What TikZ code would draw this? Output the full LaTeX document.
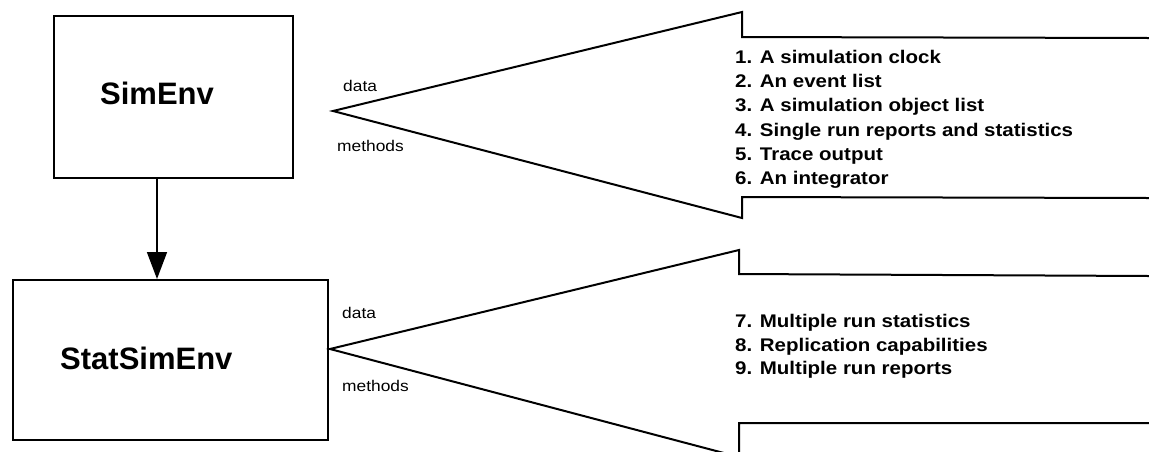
\documentclass[tikz,border=0pt]{standalone}
\usepackage{fontspec}
\setmainfont{Liberation Sans}
\newfontfamily\boxfont{Liberation Sans}
\newfontfamily\listfont[FakeStretch=1.12]{Liberation Sans}
\newfontfamily\tagfont[FakeStretch=1.12]{Liberation Sans}
\usetikzlibrary{arrows.meta}
\begin{document}
\begin{tikzpicture}[x=1pt,y=-1pt,
  classbox/.style={draw,line width=2pt},
  classname/.style={font=\boxfont\fontsize{31}{31}\selectfont\bfseries,inner sep=0pt},
  featitem/.style={font=\listfont\fontsize{18.3}{18.3}\selectfont\bfseries,inner sep=0pt,anchor=base west},
  porttag/.style={font=\tagfont\fontsize{15.5}{15.5}\selectfont,inner sep=0pt,anchor=base west},
  callout/.style={draw,line width=2pt,line join=miter},
  inherit/.style={draw,line width=1.6pt,-{Triangle[width=20pt,length=27pt]}}]
\useasboundingbox (0,0) rectangle (1149,451);
\clip (0,0) rectangle (1149,451);

% class boxes
\node[classbox,anchor=north west,minimum width=239pt,minimum height=162pt,inner sep=0pt] (simenv) at (53,15) {};
\node[classbox,anchor=north west,minimum width=315pt,minimum height=160pt,inner sep=0pt] (statsimenv) at (12,279) {};
\node[classname,anchor=base] (simenvlabel) at (157,104.5) {SimEnv};
\node[classname,anchor=base west] (statlabel) at (60,369) {StatSimEnv};

% inheritance arrow
\coordinate (arrtop) at (157,177);
\coordinate (arrbot) at (157,279);
\draw[inherit] (arrtop) -- (arrbot);

% upper callout: data and methods of SimEnv
\coordinate (tipA) at (333,111);
\draw[callout] (1149,38) -- (742,37) -- (742,12) -- (tipA) -- (742,218) -- (742,197) -- (1149,198);
\node[porttag] (dataA) at (343,91) {data};
\node[porttag] (methA) at (337,151) {methods};

\node[featitem] (i1) at (735,63.5) {1. A simulation clock};
\node[featitem] (i2) at (735,87.7) {2. An event list};
\node[featitem] (i3) at (735,111.9) {3. A simulation object list};
\node[featitem] (i4) at (735,136.1) {4. Single run reports and statistics};
\node[featitem] (i5) at (735,160.3) {5. Trace output};
\node[featitem] (i6) at (735,184.5) {6. An integrator};

% lower callout: data and methods of StatSimEnv
\coordinate (tipB) at (330,349);
\draw[callout] (1149,276) -- (739,274) -- (739,250) -- (tipB) -- (739,457) -- (739,423) -- (1149,423);
\node[porttag] (dataB) at (342,318) {data};
\node[porttag] (methB) at (342,391.5) {methods};

\node[featitem] (i7) at (735,327.5) {7. Multiple run statistics};
\node[featitem] (i8) at (735,351) {8. Replication capabilities};
\node[featitem] (i9) at (735,374.5) {9. Multiple run reports};
\end{tikzpicture}
\end{document}
